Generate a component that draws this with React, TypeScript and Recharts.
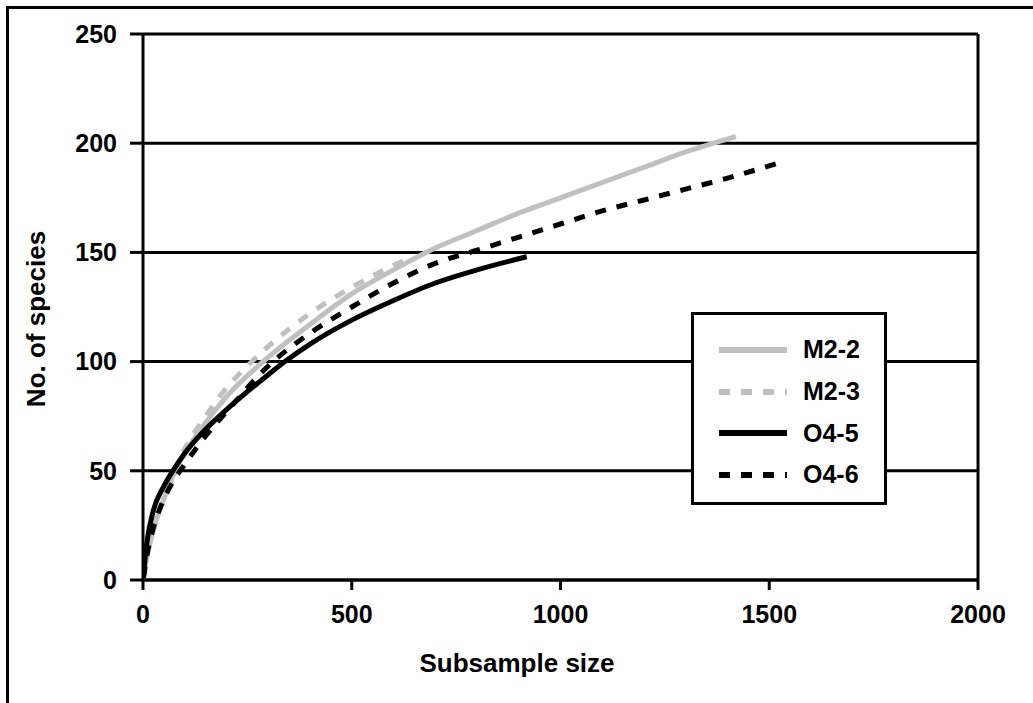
import { LineChart, Line, XAxis, YAxis, CartesianGrid, ReferenceLine } from 'recharts'

// subsample size (x) and species count (y)
const m22Size = [1, 10, 25, 50, 75, 100, 150, 200, 300, 400, 500, 600, 700, 800, 900, 1000, 1100, 1200, 1300, 1420]
const m22Species = [1, 11, 23, 37, 49, 58, 72, 84, 102, 117, 131, 142, 152, 160, 168, 175, 182, 189, 196, 203]

const m23Size = [1, 10, 25, 50, 75, 100, 150, 200, 250, 300, 400, 500, 600, 644]
const m23Species = [1, 11, 23, 38, 50, 60, 75, 88, 98, 107, 122, 134, 144, 148]

const o45Size = [1, 5, 10, 25, 50, 75, 100, 150, 200, 300, 340, 400, 500, 600, 700, 800, 919]
const o45Species = [1, 10, 18, 32, 43, 51, 58, 69, 78, 94, 100, 108, 119, 128, 136, 142, 148]

const o46Size = [1, 10, 25, 50, 75, 100, 150, 200, 300, 400, 500, 600, 700, 800, 900, 1000, 1100, 1200, 1300, 1400, 1523]
const o46Species = [1, 12, 24, 37, 46, 53, 66, 77, 98, 113, 125, 136, 145, 151, 157, 163, 169, 174, 179, 184, 191]

const xTicks = [0, 500, 1000, 1500, 2000]
const yTicks = [0, 50, 100, 150, 200, 250]

const zip = (xs: number[], ys: number[]) => xs.map((x, i) => ({ x, y: ys[i] }))

const series = [
  { name: 'M2-2', color: '#c0c0c0', dash: undefined as string | undefined, data: zip(m22Size, m22Species) },
  { name: 'M2-3', color: '#c0c0c0', dash: '11 11', data: zip(m23Size, m23Species) },
  { name: 'O4-5', color: '#000000', dash: undefined, data: zip(o45Size, o45Species) },
  { name: 'O4-6', color: '#000000', dash: '11 11', data: zip(o46Size, o46Species) },
]

const FONT = '"Liberation Sans", Arial, sans-serif'
const tickStyle = { fontSize: 25, fontWeight: 700, fill: '#000', fontFamily: FONT }

function LegendBox() {
  return (
    <div
      style={{
        position: 'absolute',
        left: 691,
        top: 312,
        border: '3px solid #000',
        background: '#fff',
        width: 196,
        height: 193,
        boxSizing: 'border-box',
        padding: '14px 0 0 24px',
        fontFamily: FONT,
      }}
    >
      {series.map(s => (
        <div key={s.name} style={{ display: 'flex', alignItems: 'center', height: 41.7 }}>
          <svg width={70} height={10} style={{ marginRight: 15 }}>
            <line x1={1} y1={5} x2={69} y2={5} stroke={s.color} strokeWidth={6} strokeDasharray={s.dash} />
          </svg>
          <span style={{ fontSize: 25, fontWeight: 700, color: '#000' }}>{s.name}</span>
        </div>
      ))}
    </div>
  )
}

export default function App() {
  return (
    <div style={{ position: 'fixed', left: 0, top: 0, width: 1033, height: 703, overflow: 'hidden', background: '#fff' }}>
      <div
        style={{
          position: 'absolute',
          left: 6,
          top: 6,
          width: 1100,
          height: 800,
          borderLeft: '3px solid #000',
          borderTop: '3px solid #000',
        }}
      />
      <div style={{ position: 'absolute', left: 0, top: 0 }}>
        <LineChart width={1033} height={703} margin={{ top: 34, right: 55, bottom: 93, left: 83 }}>
          <CartesianGrid vertical={false} stroke="#000" strokeWidth={3} />
          <XAxis
            type="number"
            dataKey="x"
            domain={[0, 2000]}
            ticks={xTicks}
            height={30}
            tick={tickStyle}
            tickSize={10}
            tickMargin={15}
            axisLine={{ stroke: '#000', strokeWidth: 3 }}
            tickLine={{ stroke: '#000', strokeWidth: 3 }}
            allowDataOverflow
            label={{
              content: () => (
                <text x={517} y={672} textAnchor="middle" fontSize={26} fontWeight={700} fontFamily={FONT} fill="#000">
                  Subsample size
                </text>
              ),
            }}
          />
          <YAxis
            type="number"
            domain={[0, 250]}
            ticks={yTicks}
            width={60}
            tick={tickStyle}
            tickSize={13}
            tickMargin={13}
            axisLine={{ stroke: '#000', strokeWidth: 3 }}
            tickLine={{ stroke: '#000', strokeWidth: 3 }}
            label={{
              content: () => (
                <text
                  x={36}
                  y={319}
                  transform="rotate(-90 36 319)"
                  textAnchor="middle"
                  dominantBaseline="central"
                  fontSize={26}
                  fontWeight={700}
                  fontFamily={FONT}
                  fill="#000"
                >
                  No. of species
                </text>
              ),
            }}
          />
          <ReferenceLine x={2000} stroke="#000" strokeWidth={3} />
          {series.map(s => (
            <Line
              key={s.name}
              data={s.data}
              dataKey="y"
              name={s.name}
              type="monotone"
              stroke={s.color}
              strokeWidth={5}
              strokeDasharray={s.dash}
              dot={false}
              activeDot={false}
              isAnimationActive={false}
            />
          ))}
        </LineChart>
      </div>
      <LegendBox />
    </div>
  )
}
